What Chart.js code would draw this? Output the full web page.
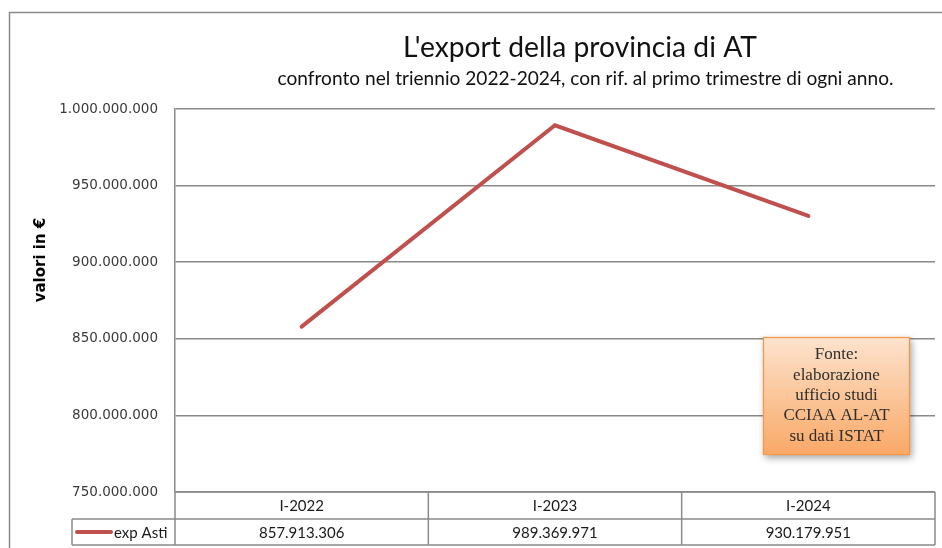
<!DOCTYPE html>
<html><head><meta charset="utf-8">
<script src="https://cdn.jsdelivr.net/npm/chart.js@4"></script>
<style>html,body{margin:0;padding:0;background:#fff}canvas{display:block}</style>
</head><body>
<canvas id="c" width="942" height="548"></canvas>
<script>
const categories = ['I-2022', 'I-2023', 'I-2024'];
const seriesName = 'exp Asti';
const expAsti = [857913306, 989369971, 930179951];
const yTicks = [750000000, 800000000, 850000000, 900000000, 950000000, 1000000000];
const titleText = "L'export della provincia di AT";
const subtitleText = 'confronto nel triennio 2022-2024, con rif. al primo trimestre di ogni anno.';
const yAxisLabel = 'valori in €';
const sourceNote = ['Fonte:', 'elaborazione', 'ufficio studi', 'CCIAA AL-AT', 'su dati ISTAT'];

const RED = '#C0504D';
const GRID = '#8a8a8a';

function fmt(v) { return String(Math.round(v)).replace(/\B(?=(\d{3})+(?!\d))/g, '.'); }
function fitSize(ctx, text, font, target) {
  ctx.font = font.replace('{s}', '100px');
  return 100 * target / ctx.measureText(text).width;
}

const deco = {
  id: 'deco',
  beforeDraw(chart) {
    const ctx = chart.ctx;
    ctx.save();
    ctx.fillStyle = '#fff';
    ctx.fillRect(0, 0, chart.width, chart.height);
    ctx.strokeStyle = GRID; ctx.lineWidth = 1.5;
    ctx.beginPath();
    ctx.moveTo(9.5, chart.height + 2); ctx.lineTo(9.5, 12.5); ctx.lineTo(chart.width + 2, 12.5);
    ctx.stroke();
    ctx.restore();
  },
  afterDraw(chart) {
    const ctx = chart.ctx;
    const area = chart.chartArea;
    const xs = chart.scales.x;
    ctx.save();
    // Title
    ctx.fillStyle = '#111';
    ctx.textAlign = 'center';
    ctx.textBaseline = 'alphabetic';
    let s = fitSize(ctx, titleText, '{s} Lato', 354);
    ctx.font = s.toFixed(2) + 'px Lato';
    ctx.fillText(titleText, 580, 57);
    s = fitSize(ctx, subtitleText, '{s} Lato', 616);
    ctx.font = s.toFixed(2) + 'px Lato';
    ctx.fillText(subtitleText, 585.5, 85);
    // Y axis label
    ctx.save();
    ctx.translate(41, 260);
    ctx.rotate(-Math.PI / 2);
    ctx.font = 'bold 15px "DejaVu Sans"';
    ctx.textBaseline = 'middle';
    ctx.fillStyle = '#000';
    ctx.fillText(yAxisLabel, 0, 0);
    ctx.restore();

    // Data table
    const n = categories.length;
    const b = [area.left];
    for (let i = 1; i < n; i++) b.push((xs.getPixelForValue(i - 1) + xs.getPixelForValue(i)) / 2);
    b.push(area.right);
    const top = area.bottom, mid = top + 27, bot = mid + 26;
    const legL = 72;
    ctx.strokeStyle = GRID; ctx.lineWidth = 1.5;
    ctx.beginPath();
    ctx.moveTo(area.left, top); ctx.lineTo(area.right, top);
    ctx.moveTo(legL, mid); ctx.lineTo(area.right, mid);
    ctx.moveTo(legL, bot); ctx.lineTo(area.right, bot);
    ctx.moveTo(legL, mid); ctx.lineTo(legL, bot);
    for (const x of b) { ctx.moveTo(x, top); ctx.lineTo(x, bot); }
    ctx.stroke();
    ctx.fillStyle = '#1a1a1a';
    ctx.font = '15px Lato';
    ctx.textAlign = 'center';
    ctx.textBaseline = 'middle';
    for (let i = 0; i < n; i++) {
      const cx = xs.getPixelForValue(i);
      ctx.fillText(categories[i], cx, (top + mid) / 2 + 1);
      ctx.fillText(fmt(expAsti[i]), cx, (mid + bot) / 2 + 1);
    }
    // legend key
    ctx.strokeStyle = RED; ctx.lineWidth = 4; ctx.lineCap = 'round';
    ctx.beginPath(); ctx.moveTo(77, (mid + bot) / 2); ctx.lineTo(111, (mid + bot) / 2); ctx.stroke();
    ctx.textAlign = 'left';
    ctx.fillText(seriesName, 114, (mid + bot) / 2 + 1);

    // Source box
    const bx = 763, by = 337, bw = 147, bh = 118;
    ctx.save();
    ctx.shadowColor = 'rgba(0,0,0,0.35)';
    ctx.shadowBlur = 7; ctx.shadowOffsetX = 2; ctx.shadowOffsetY = 3;
    const g = ctx.createLinearGradient(0, by, 0, by + bh);
    g.addColorStop(0, '#FDE3CE');
    g.addColorStop(0.5, '#FBC69A');
    g.addColorStop(1, '#F9A866');
    ctx.fillStyle = g;
    ctx.fillRect(bx, by, bw, bh);
    ctx.restore();
    ctx.strokeStyle = '#F79646'; ctx.lineWidth = 1.2;
    ctx.strokeRect(bx + 0.5, by + 0.5, bw - 1, bh - 1);
    ctx.fillStyle = '#2e2e2e';
    ctx.font = '17px "Liberation Serif"';
    ctx.textAlign = 'center';
    ctx.textBaseline = 'middle';
    sourceNote.forEach((t, i) => ctx.fillText(t, bx + bw / 2, by + 18 + i * 20.3));
    ctx.restore();
  }
};

new Chart(document.getElementById('c'), {
  type: 'line',
  data: {
    labels: categories,
    datasets: [{
      label: seriesName,
      data: expAsti,
      borderColor: RED,
      backgroundColor: RED,
      borderWidth: 4,
      borderCapStyle: 'round',
      pointRadius: 0,
      pointHoverRadius: 0,
      tension: 0
    }]
  },
  options: {
    responsive: false,
    animation: false,
    events: [],
    layout: { padding: { left: 0, top: 109, right: 7, bottom: 56 } },
    plugins: { legend: { display: false }, title: { display: false }, tooltip: { enabled: false } },
    scales: {
      x: { type: 'category', display: false, offset: true },
      y: {
        min: yTicks[0],
        max: yTicks[yTicks.length - 1],
        afterFit(scale) { scale.width = 175; },
        afterBuildTicks(scale) { scale.ticks = yTicks.map(v => ({ value: v })); },
        ticks: {
          callback: v => fmt(v),
          font: { family: 'DejaVu Sans', size: 13.5 },
          color: '#3a3a3a',
          padding: 17
        },
        grid: { color: GRID, lineWidth: 1.5, drawTicks: false },
        border: { display: true, color: GRID, width: 1.5 }
      }
    }
  },
  plugins: [deco]
});
</script>
</body></html>
